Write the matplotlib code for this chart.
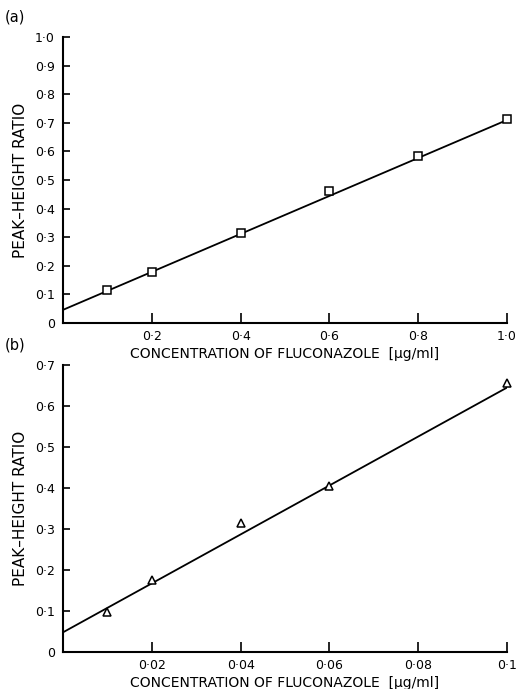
import numpy as np
import matplotlib
matplotlib.use('Agg')
import matplotlib.pyplot as plt

# panel (a): 0.1 - 1.0 ug/ml
conc_a = [0.1, 0.2, 0.4, 0.6, 0.8, 1.0]
ratio_a = [0.115, 0.178, 0.315, 0.46, 0.585, 0.715]
fit_a = (0.046, 0.664)  # intercept, slope

# panel (b): 0.01 - 0.1 ug/ml
conc_b = [0.01, 0.02, 0.04, 0.06, 0.1]
ratio_b = [0.098, 0.175, 0.315, 0.405, 0.655]
fit_b = (0.048, 5.97)

xticks_a = [0.2, 0.4, 0.6, 0.8, 1.0]
yticks_a = [0, 0.1, 0.2, 0.3, 0.4, 0.5, 0.6, 0.7, 0.8, 0.9, 1.0]
xticks_b = [0.02, 0.04, 0.06, 0.08, 0.1]
yticks_b = [0, 0.1, 0.2, 0.3, 0.4, 0.5, 0.6, 0.7]


def dot(v, nd):
    if v == 0:
        return '0'
    s = f'{v:.{nd}f}'
    if nd == 2 and s.endswith('0'):
        s = s[:-1]
    return s.replace('.', '\u00b7')


def panel(ax, x, y, fit, xt, yt, xmax, ymax, marker, ms, xd):
    xs = np.array([0, xmax])
    ax.plot(xs, fit[0] + fit[1] * xs, color='black', lw=1.3)
    ax.plot(x, y, linestyle='none', marker=marker, ms=ms, mfc='white',
            mec='black', mew=1.1, clip_on=False)
    ax.set_xlim(0, xmax)
    ax.set_ylim(0, ymax)
    ax.set_xticks(xt)
    ax.set_xticklabels([dot(v, xd) for v in xt])
    ax.set_yticks(yt)
    ax.set_yticklabels([dot(v, 1) for v in yt])
    for s in ['top', 'right']:
        ax.spines[s].set_visible(False)
    for s in ['left', 'bottom']:
        ax.spines[s].set_linewidth(1.5)
    ax.tick_params(axis='x', direction='in', length=7, width=1.2,
                   labelsize=9, pad=5)
    ax.tick_params(axis='y', direction='in', length=5, width=1.2,
                   labelsize=9, pad=6)
    ax.set_ylabel('PEAK\u2013HEIGHT RATIO', fontsize=11, labelpad=5)
    ax.set_xlabel('CONCENTRATION OF FLUCONAZOLE  [\u00b5g/ml]',
                  fontsize=10, labelpad=3)


fig = plt.figure(figsize=(5.19, 6.89), dpi=100)
ax1 = fig.add_axes([0.1214, 0.5312, 0.8555, 0.415])
ax2 = fig.add_axes([0.1214, 0.0537, 0.8555, 0.4165])

panel(ax1, conc_a, ratio_a, fit_a, xticks_a, yticks_a, 1.0, 1.0, 's', 6, 1)
panel(ax2, conc_b, ratio_b, fit_b, xticks_b, yticks_b, 0.1, 0.7, '^', 5.5, 2)

fig.text(0.01, 0.975, '(a)', fontsize=10.5, va='center')
fig.text(0.01, 0.5, '(b)', fontsize=10.5, va='center')

fig.savefig('out.png', dpi=100)
